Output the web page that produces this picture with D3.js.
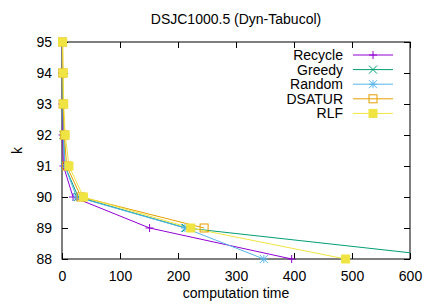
<!DOCTYPE html>
<html>
<head>
<meta charset="utf-8">
<script src="https://cdn.jsdelivr.net/npm/d3@7"></script>
<style>
  html, body { margin: 0; padding: 0; background: #fff; }
  svg { display: block; }
  text { font-family: "Liberation Sans", Arial, sans-serif; font-size: 14px; fill: #000; }
</style>
</head>
<body>
<script>
const kValues = [95, 94, 93, 92, 91, 90, 89, 88];
const recycle = [0, 0.3, 0.6, 1, 2.5, 19, 151, 396];
const greedy  = [0.5, 1, 1.5, 2.5, 5, 28, 214, 697];
const random  = [0.5, 1, 1.5, 2.5, 5, 25, 212, 348];
const dsatur  = [1, 1.5, 2, 4, 8, 33, 245];
const rlf     = [1, 2, 3, 5.5, 12, 37, 222, 489];
const xTicks = [0, 100, 200, 300, 400, 500, 600];
const yTicks = [88, 89, 90, 91, 92, 93, 94, 95];
const seriesNames = ["Recycle", "Greedy", "Random", "DSATUR", "RLF"];
const seriesValues = [recycle, greedy, random, dsatur, rlf];
const colors = ["#9400d3", "#009e73", "#56b4e9", "#e69f00", "#f0e442"];
const markers = ["plus", "cross", "star", "box", "fbox"];

const W = 436, H = 305;
const L = 62, R = 410, T = 42, B = 259;

const svg = d3.select("body").append("svg").attr("width", W).attr("height", H);
svg.append("rect").attr("width", W).attr("height", H).attr("fill", "#fff");

const x = d3.scaleLinear().domain([0, 600]).range([L, R]);
const y = d3.scaleLinear().domain([88, 95]).range([B, T]);

svg.append("defs").append("clipPath").attr("id", "clip")
  .append("rect").attr("x", L).attr("y", T).attr("width", R - L).attr("height", B - T);

const tl = 6;
const gB = svg.append("g").attr("transform", `translate(0,${B})`)
  .call(d3.axisBottom(x).tickValues(xTicks).tickFormat(d3.format("d")).tickSizeInner(-tl).tickSizeOuter(0).tickPadding(tl + 6));
const gT = svg.append("g").attr("transform", `translate(0,${T})`)
  .call(d3.axisTop(x).tickValues(xTicks).tickSizeInner(-tl).tickSizeOuter(0).tickFormat(""));
const gL = svg.append("g").attr("transform", `translate(${L},0)`)
  .call(d3.axisLeft(y).tickValues(yTicks).tickFormat(d3.format("d")).tickSizeInner(-tl).tickSizeOuter(0).tickPadding(tl + 4));
const gR = svg.append("g").attr("transform", `translate(${R},0)`)
  .call(d3.axisRight(y).tickValues(yTicks).tickSizeInner(-tl).tickSizeOuter(0).tickFormat(""));
[gB, gT, gL, gR].forEach(g => {
  g.select(".domain").remove();
  g.selectAll(".tick line").attr("stroke", "#000");
  g.selectAll("text").attr("font-size", 14).attr("font-family", "Liberation Sans, Arial, sans-serif").attr("fill", "#000");
});

svg.append("rect").attr("x", L).attr("y", T).attr("width", R - L).attr("height", B - T)
  .attr("fill", "none").attr("stroke", "#000").attr("stroke-width", 1);

function drawMarker(g, type, cx, cy, color) {
  const s = 4;
  if (type === "plus" || type === "star") {
    g.append("path").attr("d", `M${cx - s},${cy}H${cx + s}M${cx},${cy - s}V${cy + s}`)
      .attr("stroke", color).attr("fill", "none");
  }
  if (type === "cross" || type === "star") {
    g.append("path").attr("d", `M${cx - s},${cy - s}L${cx + s},${cy + s}M${cx - s},${cy + s}L${cx + s},${cy - s}`)
      .attr("stroke", color).attr("fill", "none");
  }
  if (type === "box") {
    g.append("rect").attr("x", cx - s).attr("y", cy - s).attr("width", 2 * s).attr("height", 2 * s)
      .attr("stroke", color).attr("fill", "none");
  }
  if (type === "fbox") {
    g.append("rect").attr("x", cx - s).attr("y", cy - s).attr("width", 2 * s).attr("height", 2 * s)
      .attr("stroke", color).attr("fill", color);
  }
}

const plot = svg.append("g").attr("clip-path", "url(#clip)");
const line = d3.line().x(d => x(d[0])).y(d => y(d[1]));
const markG = svg.append("g");

seriesValues.forEach((vals, i) => {
  const pts = vals.map((v, j) => [v, kValues[j]]);
  plot.append("path").datum(pts).attr("d", line)
    .attr("fill", "none").attr("stroke", colors[i]).attr("stroke-width", 1);
  pts.forEach(p => {
    if (p[0] <= 600) drawMarker(markG, markers[i], x(p[0]), y(p[1]), colors[i]);
  });
});

// legend
const legX = 343, lineX0 = 353, lineX1 = 393, legY0 = 55, legDy = 14.6;
seriesNames.forEach((name, i) => {
  const yy = legY0 + i * legDy;
  svg.append("text").attr("x", legX).attr("y", yy).attr("dy", "0.35em")
    .attr("font-size", 12.6)
    .attr("text-anchor", "end").text(name);
  svg.append("line").attr("x1", lineX0).attr("x2", lineX1).attr("y1", yy).attr("y2", yy)
    .attr("stroke", colors[i]).attr("stroke-width", 1);
  drawMarker(svg, markers[i], (lineX0 + lineX1) / 2, yy, colors[i]);
});

svg.append("text").attr("x", (L + R) / 2).attr("y", 24).attr("text-anchor", "middle")
  .text("DSJC1000.5 (Dyn-Tabucol)");
svg.append("text").attr("x", (L + R) / 2).attr("y", 298).attr("text-anchor", "middle")
  .text("computation time");
svg.append("text").attr("transform", `translate(22,${(T + B) / 2}) rotate(-90)`)
  .attr("text-anchor", "middle").text("k");
</script>
</body>
</html>
